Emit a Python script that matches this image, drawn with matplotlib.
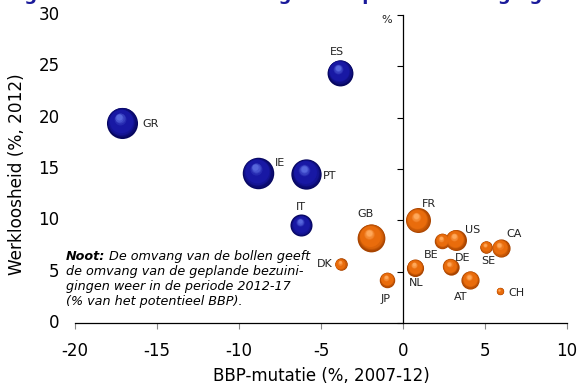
#!/usr/bin/env python3
"""Werkloosheid vs BBP-mutatie, bubbles = geplande bezuinigingen."""

import numpy as np
import matplotlib
matplotlib.use("Agg")
import matplotlib.pyplot as plt
from matplotlib import transforms
from matplotlib.colors import to_rgb

plt.rcParams["font.family"] = ["DejaVu Sans"]
plt.rcParams["axes.unicode_minus"] = False

# data
landen = ["ES", "GR", "IE", "PT", "IT", "GB", "DK", "JP", "FR",
          "NL", "BE", "US", "DE", "AT", "SE", "CA", "CH"]
bbp_mutatie = [-3.85, -17.15, -8.85, -5.9, -6.2, -1.95, -3.8, -0.98, 0.9,
               0.73, 2.4, 3.2, 2.9, 4.1, 5.05, 5.95, 5.9]
werkloosheid = [24.4, 19.5, 14.6, 14.5, 9.5, 8.3, 5.7, 4.2, 10.0,
                5.4, 8.0, 8.1, 5.5, 4.2, 7.4, 7.3, 3.1]
bezuiniging = [7.3, 10.5, 10.8, 10.0, 5.3, 8.4, 1.7, 2.6, 6.8,
               3.2, 2.6, 4.8, 2.9, 3.6, 1.7, 3.6, 0.6]
eurocrisis = ["ES", "GR", "IE", "PT", "IT"]

x_ticks = [-20, -15, -10, -5, 0, 5, 10]
y_ticks = [0, 5, 10, 15, 20, 25, 30]

# label offsets in points (dx, dy, ha)
label_pos = {
    "ES": (-2, 15, "center"), "GR": (15, -1, "left"), "IE": (12, 7, "left"),
    "PT": (12, -1, "left"), "IT": (0, 13, "center"), "GB": (-4, 17, "center"),
    "DK": (-6, 0, "right"), "JP": (-1, -14, "center"), "FR": (8, 12, "center"),
    "NL": (1, -11, "center"), "BE": (-8, -10, "center"), "US": (12, 7, "center"),
    "DE": (9, 6, "center"), "AT": (-7, -12, "center"), "SE": (2, -10, "center"),
    "CA": (10, 10, "center"), "CH": (6, -1, "left"),
}

fig = plt.figure(figsize=(5.81, 3.87), dpi=100)
ax = fig.add_axes([0.129, 0.1654, 0.847, 0.7958])
ax.set_xlim(-20, 10)
ax.set_ylim(0, 30)


def mix(c1, c2, t):
    a, b = np.array(to_rgb(c1)), np.array(to_rgb(c2))
    return tuple(a + (b - a) * t)


palettes = {
    "blue": ("#06065e", "#1818a4", "#5666dc"),
    "orange": ("#a84400", "#e96c0c", "#ffa85a"),
}

n_layers = 14
for land, x, y, v in zip(landen, bbp_mutatie, werkloosheid, bezuiniging):
    edge, mid, hi = palettes["blue" if land in eurocrisis else "orange"]
    d_pt = 6.9 * np.sqrt(v)  # diameter in points
    r_pt = d_pt / 2
    for k in range(n_layers):
        t = k / (n_layers - 1)
        f = 1 - 0.8 * t
        if t < 0.3:
            col = mix(edge, mid, t / 0.3)
        elif t < 0.7:
            col = mid
        else:
            col = mix(mid, hi, (t - 0.7) / 0.3)
        off = (1 - f) * r_pt * 0.5
        tr = transforms.offset_copy(ax.transData, fig=fig, x=-off * 0.4,
                                    y=off * 0.9, units="points")
        ax.scatter([x], [y], s=(d_pt * f) ** 2, color=col, transform=tr,
                   linewidths=0, zorder=3 + k * 0.01)
    dx, dy, ha = label_pos[land]
    ax.annotate(land, (x, y), xytext=(dx, dy), textcoords="offset points",
                ha=ha, va="center", fontsize=8, color="#222222", zorder=5)

# axes: x spine at y=0, y spine at x=0
for s in ["top", "right"]:
    ax.spines[s].set_visible(False)
ax.spines["left"].set_position(("data", 0))
ax.spines["left"].set_linewidth(0.9)
ax.spines["bottom"].set_linewidth(0.9)
ax.set_xticks(x_ticks)
ax.set_yticks(y_ticks)
ax.tick_params(axis="x", direction="out", length=4, width=0.8, labelsize=12,
               pad=10, color="#888888")
ax.tick_params(axis="y", direction="out", length=4, width=0.8, labelleft=False)
ylines = ax.yaxis.get_ticklines()[::2]
for tl in (ylines[0], ylines[-1]):
    tl.set_color("#999999")

ytrans = transforms.blended_transform_factory(ax.transAxes, ax.transData)
for yt in y_ticks:
    ax.text(-0.031, yt, str(yt), transform=ytrans, ha="right", va="center",
            fontsize=12)
ax.text(-0.7, 29.5, "%", fontsize=8, ha="right", va="center", color="#222222")

ax.set_xlabel("BBP-mutatie (%, 2007-12)", fontsize=12, labelpad=5)
fig.text(0.029, 0.55, "Werkloosheid (%, 2012)", rotation=90, fontsize=12.2,
         ha="center", va="center")

# note
note_x = -0.018
t1 = ax.text(note_x, 0.2175, "Noot:", transform=ax.transAxes, fontsize=9.2,
             style="italic", weight="bold", va="center", ha="left")
ax.annotate(" De omvang van de bollen geeft", xy=(1, 0.5), xycoords=t1,
            fontsize=9.2, style="italic", va="center", ha="left")
note_lines = ["de omvang van de geplande bezuini-",
              "gingen weer in de periode 2012-17",
              "(% van het potentieel BBP)."]
for i, line in enumerate(note_lines):
    ax.text(note_x, 0.1688 - i * 0.0487, line, transform=ax.transAxes,
            fontsize=9.2, style="italic", va="center", ha="left")

# title, clipped at the top edge (only the descenders show)
fig.text(0.01, 1.001, "Figuur 3: Werkloosheid en groei bepalen bezuinigingen",
         fontsize=13, weight="bold", color="#1a1a9a", ha="left", va="baseline")

fig.savefig("out.png", dpi=100)
